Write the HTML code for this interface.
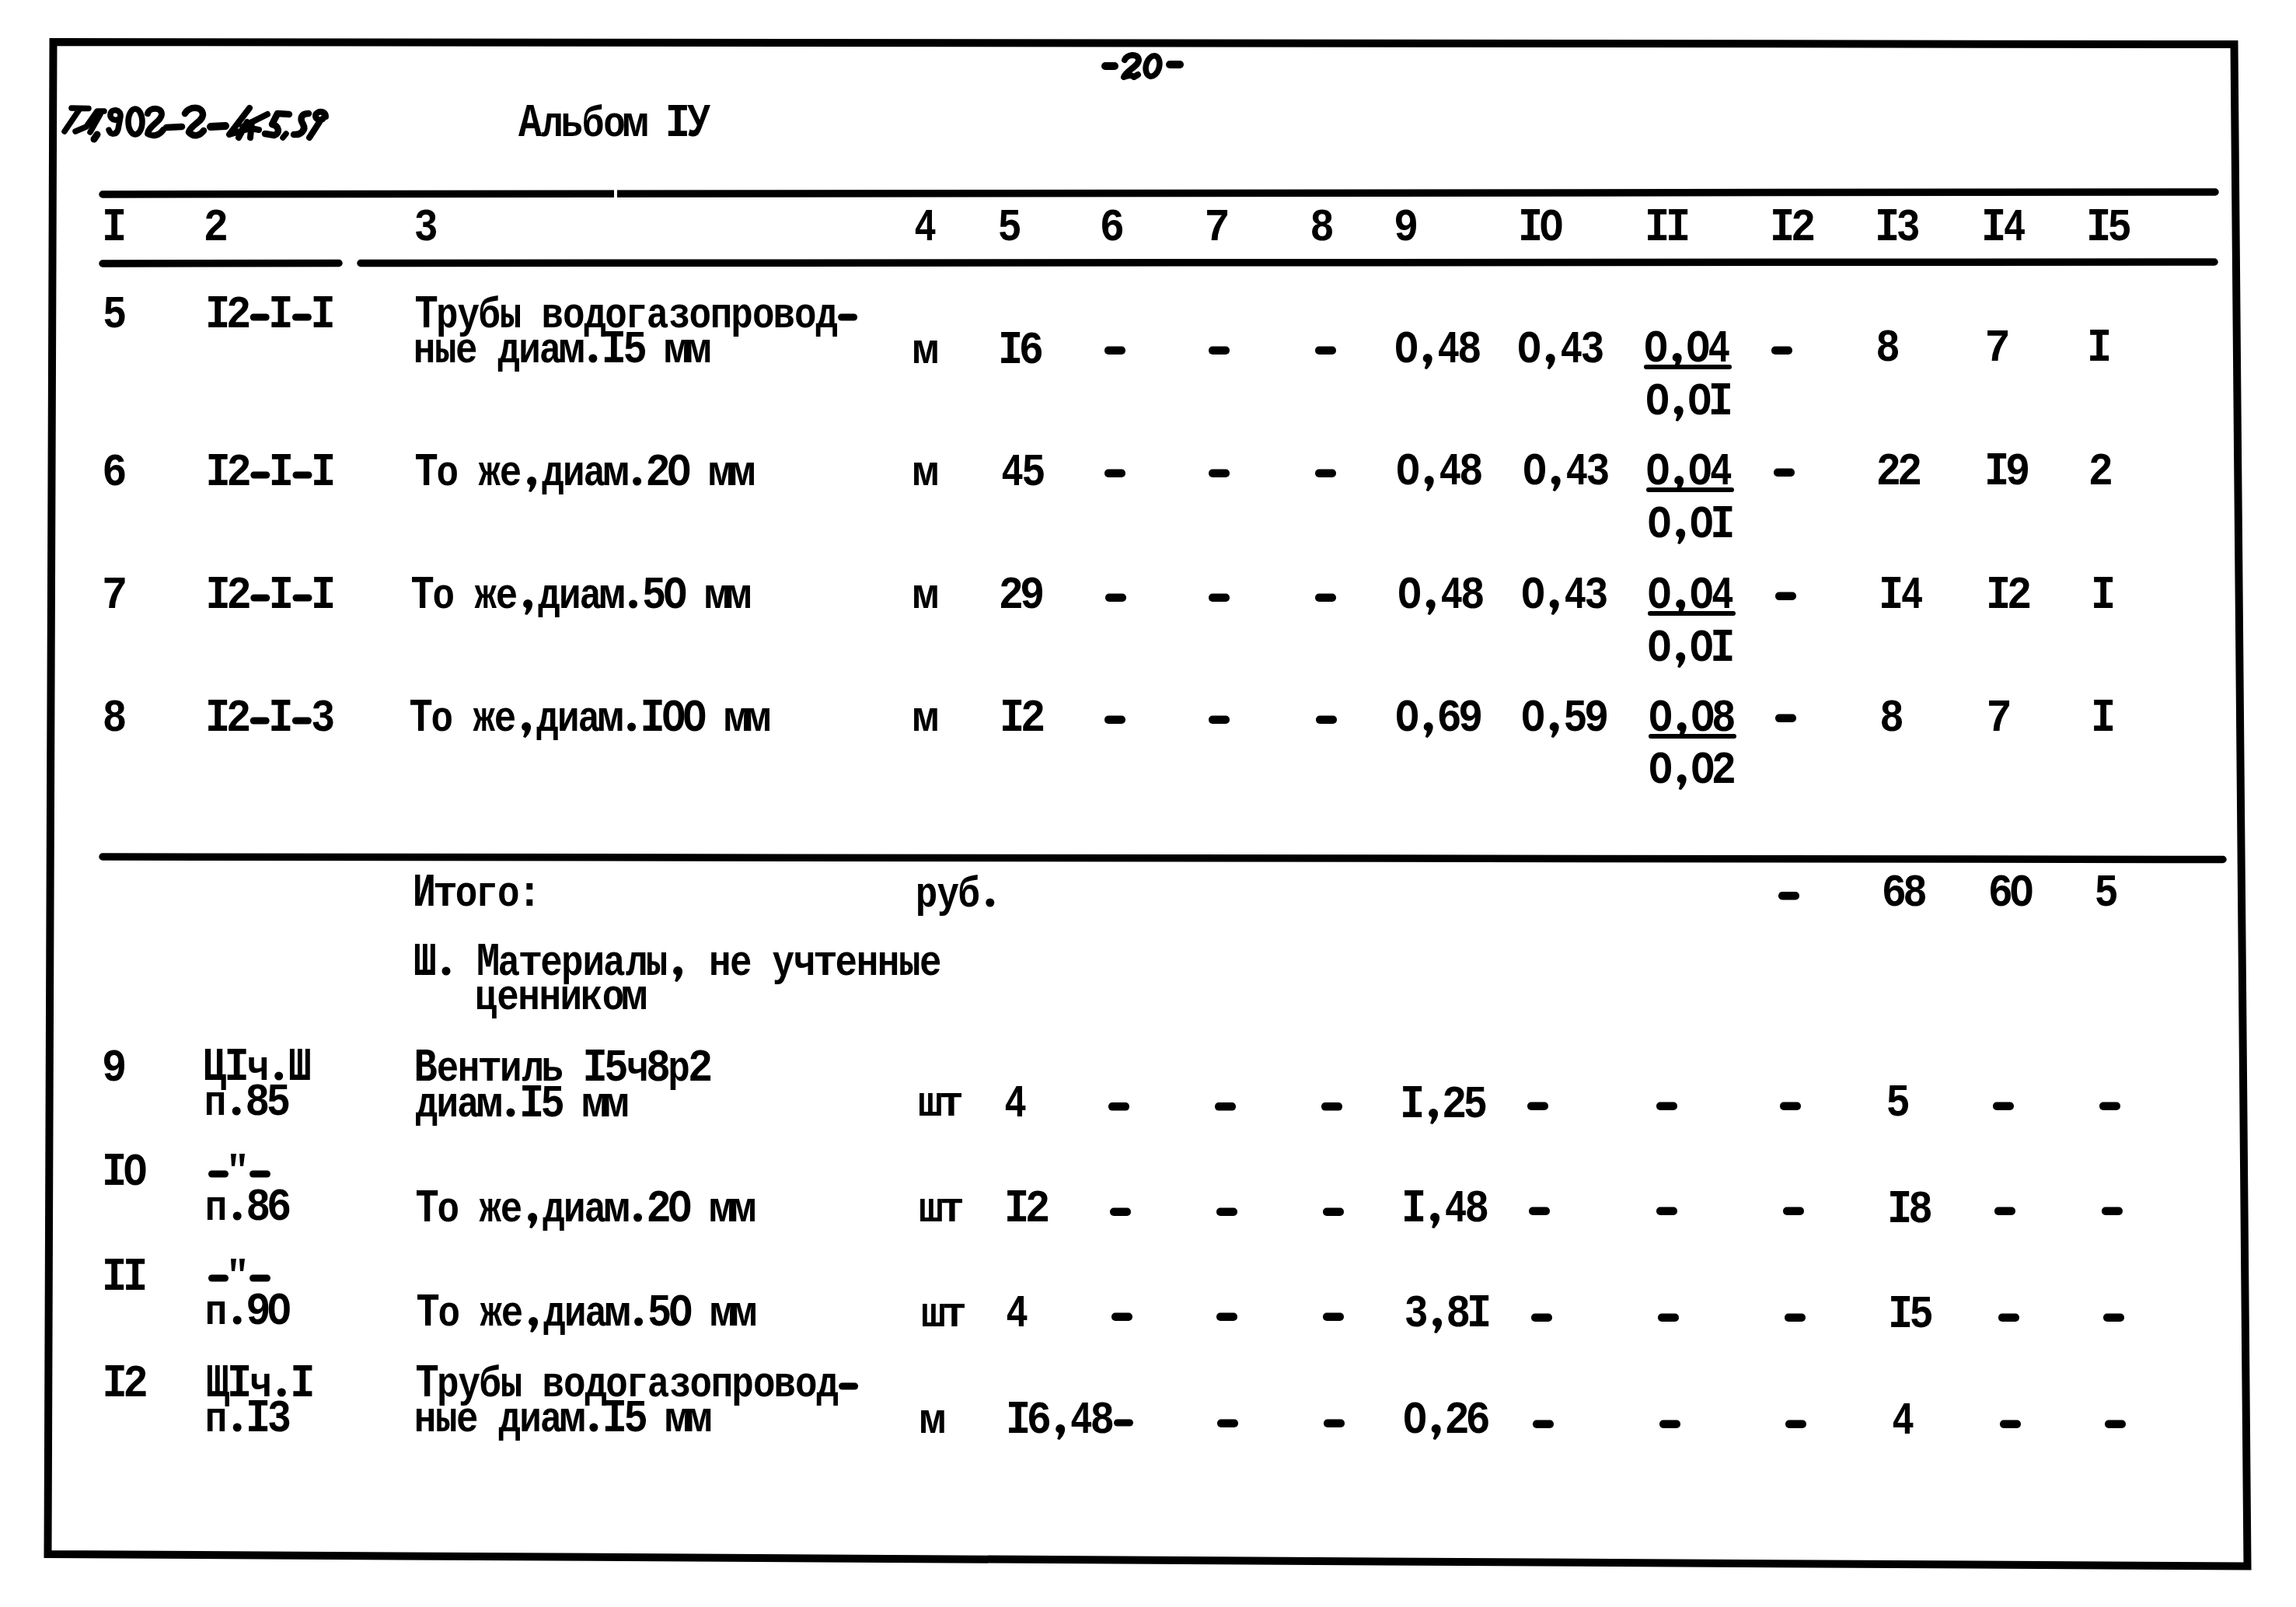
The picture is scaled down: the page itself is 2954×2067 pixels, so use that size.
<!DOCTYPE html><html><head><meta charset="utf-8"><style>html,body{margin:0;padding:0;background:#fff;width:2954px;height:2067px;overflow:hidden}svg{display:block}</style></head><body>
<svg width="2954" height="2067" viewBox="0 0 2954 2067">
<rect width="2954" height="2067" fill="#fff"/>
<path d="M68.5 54 L2874.5 57 L2891.5 2014.5 L61.5 1999 Z" fill="none" stroke="#000" stroke-width="10" stroke-linejoin="miter"/>
<g stroke="#000" stroke-width="9.5" stroke-linecap="round">
<line x1="132" y1="250" x2="2850" y2="247"/>
<line x1="132" y1="339" x2="436" y2="338.5"/>
<line x1="464" y1="338.5" x2="2849" y2="337"/>
<line x1="132" y1="1102" x2="2860" y2="1105.5"/>
</g>
<rect x="790" y="240" width="4" height="16" fill="#fff"/>
<g fill="#000">
<rect x="2115" y="469" width="113" height="6" rx="3"/>
<rect x="2118" y="627" width="113" height="6" rx="3"/>
<rect x="2120" y="786" width="113" height="6" rx="3"/>
<rect x="2121" y="944" width="113" height="6" rx="3"/>
<rect x="1421" y="445.5" width="27" height="10.5" rx="5"/>
<rect x="1555" y="445.5" width="27" height="10.5" rx="5"/>
<rect x="1692" y="445.5" width="27" height="10.5" rx="5"/>
<rect x="2279" y="445.5" width="27" height="10.5" rx="5"/>
<rect x="1421" y="603.5" width="27" height="10.5" rx="5"/>
<rect x="1555" y="603.5" width="27" height="10.5" rx="5"/>
<rect x="1692" y="603.5" width="27" height="10.5" rx="5"/>
<rect x="2282" y="602.5" width="27" height="10.5" rx="5"/>
<rect x="1422" y="763.5" width="27" height="10.5" rx="5"/>
<rect x="1555" y="763.5" width="27" height="10.5" rx="5"/>
<rect x="1692" y="763.5" width="27" height="10.5" rx="5"/>
<rect x="2284" y="761.5" width="27" height="10.5" rx="5"/>
<rect x="1421" y="920.5" width="27" height="10.5" rx="5"/>
<rect x="1555" y="920.5" width="27" height="10.5" rx="5"/>
<rect x="1693" y="920.5" width="27" height="10.5" rx="5"/>
<rect x="2284" y="918.5" width="27" height="10.5" rx="5"/>
<rect x="2288" y="1147.0" width="27" height="10.5" rx="5"/>
<rect x="1426" y="1418.1" width="27" height="10.5" rx="5"/>
<rect x="1563" y="1418.1" width="27" height="10.5" rx="5"/>
<rect x="1700" y="1418.1" width="27" height="10.5" rx="5"/>
<rect x="1965" y="1417.5" width="27" height="10.5" rx="5"/>
<rect x="2131" y="1417.5" width="27" height="10.5" rx="5"/>
<rect x="2290" y="1417.5" width="27" height="10.5" rx="5"/>
<rect x="2564" y="1417.5" width="27" height="10.5" rx="5"/>
<rect x="2701" y="1417.5" width="27" height="10.5" rx="5"/>
<rect x="1428" y="1553.5" width="27" height="10.5" rx="5"/>
<rect x="1565" y="1553.5" width="27" height="10.5" rx="5"/>
<rect x="1702" y="1553.5" width="27" height="10.5" rx="5"/>
<rect x="1967" y="1552.5" width="27" height="10.5" rx="5"/>
<rect x="2131" y="1552.5" width="27" height="10.5" rx="5"/>
<rect x="2294" y="1552.5" width="27" height="10.5" rx="5"/>
<rect x="2566" y="1552.5" width="27" height="10.5" rx="5"/>
<rect x="2704" y="1552.5" width="27" height="10.5" rx="5"/>
<rect x="1430" y="1688.5" width="27" height="10.5" rx="5"/>
<rect x="1565" y="1688.5" width="27" height="10.5" rx="5"/>
<rect x="1702" y="1688.5" width="27" height="10.5" rx="5"/>
<rect x="1970" y="1689.5" width="27" height="10.5" rx="5"/>
<rect x="2133" y="1689.5" width="27" height="10.5" rx="5"/>
<rect x="2296" y="1689.5" width="27" height="10.5" rx="5"/>
<rect x="2571" y="1689.5" width="27" height="10.5" rx="5"/>
<rect x="2706" y="1689.5" width="27" height="10.5" rx="5"/>
<rect x="1566" y="1825.5" width="27" height="10.5" rx="5"/>
<rect x="1703" y="1825.5" width="27" height="10.5" rx="5"/>
<rect x="1972" y="1826.5" width="27" height="10.5" rx="5"/>
<rect x="2135" y="1826.5" width="27" height="10.5" rx="5"/>
<rect x="2297" y="1826.5" width="27" height="10.5" rx="5"/>
<rect x="2573" y="1826.5" width="27" height="10.5" rx="5"/>
<rect x="2708" y="1826.5" width="27" height="10.5" rx="5"/>
<rect x="268" y="1505.5" width="26" height="9" rx="4.5"/><rect x="321" y="1505.5" width="27" height="9" rx="4.5"/>
<path d="M297 1484 h7 l-2 16 h-4 Z M308 1484 h7 l-2 16 h-4 Z"/>
<rect x="268" y="1639.5" width="26" height="9" rx="4.5"/><rect x="321" y="1639.5" width="27" height="9" rx="4.5"/>
<path d="M297 1619 h7 l-2 16 h-4 Z M308 1619 h7 l-2 16 h-4 Z"/>
</g>
<g font-family="Liberation Mono" font-weight="bold" font-size="56.0" fill="#000" stroke="#000" stroke-width="0">
<text transform="translate(130.9 309) scale(0.96 1.084)">I</text>
<text transform="translate(261.8 309) scale(0.96 1.068)">2</text>
<text transform="translate(532.7 309) scale(0.92 1.068)">3</text>
<text transform="translate(1176.3 309) scale(0.85 1.068)">4</text>
<text transform="translate(1283.4 309) scale(0.93 1.068)">5</text>
<text transform="translate(1414.7 309) scale(0.96 1.068)">6</text>
<text transform="translate(1549.5 309) scale(0.99 1.068)">7</text>
<text transform="translate(1685.2 309) scale(0.94 1.068)">8</text>
<text transform="translate(1793.0 309) scale(0.96 1.068)">9</text>
<text transform="translate(1952.9 309) scale(0.96 1.084)">I</text>
<text transform="translate(1980.8 309) scale(0.91 1.068)">O</text>
<text transform="translate(2115.9 309) scale(0.96 1.084)">I</text>
<text transform="translate(2143.0 309) scale(0.96 1.084)">I</text>
<text transform="translate(2276.9 309) scale(0.96 1.084)">I</text>
<text transform="translate(2304.0 309) scale(0.96 1.068)">2</text>
<text transform="translate(2411.9 309) scale(0.96 1.084)">I</text>
<text transform="translate(2439.8 309) scale(0.92 1.068)">3</text>
<text transform="translate(2548.9 309) scale(0.96 1.084)">I</text>
<text transform="translate(2577.7 309) scale(0.85 1.068)">4</text>
<text transform="translate(2683.9 309) scale(0.96 1.084)">I</text>
<text transform="translate(2711.5 309) scale(0.93 1.068)">5</text>
<text transform="translate(667.0 175) scale(0.9 1.084)">А</text>
<text transform="translate(696.3 175) scale(0.85 1.0)">л</text>
<text transform="translate(721.4 175) scale(0.85 1.0)">ь</text>
<text transform="translate(748.8 175) scale(0.85 1.0)">б</text>
<text transform="translate(776.2 175) scale(0.85 1.0)">о</text>
<text transform="translate(800.0 175) scale(1.05 1.0)">м</text>
<text transform="translate(855.7 175) scale(0.96 1.084)">I</text>
<text transform="translate(883.9 175) scale(0.9 1.084)">У</text>
<text transform="translate(131.9 421) scale(0.93 1.068)">5</text>
<text transform="translate(263.9 421) scale(0.96 1.084)">I</text>
<text transform="translate(291.0 421) scale(0.96 1.068)">2</text>
<rect x="321.7" y="403.5" width="25" height="9" rx="4.5"/>
<text transform="translate(345.2 421) scale(0.96 1.084)">I</text>
<rect x="375.9" y="403.5" width="25" height="9" rx="4.5"/>
<text transform="translate(399.4 421) scale(0.96 1.084)">I</text>
<text transform="translate(533.5 421) scale(0.9 1.084)">Т</text>
<text transform="translate(560.9 421) scale(0.85 1.0)">р</text>
<text transform="translate(588.6 421) scale(0.85 1.0)">у</text>
<text transform="translate(615.3 421) scale(0.85 1.0)">б</text>
<text transform="translate(642.7 421) scale(0.85 1.0)">ы</text>
<text transform="translate(696.4 421) scale(0.85 1.0)">в</text>
<text transform="translate(724.0 421) scale(0.85 1.0)">о</text>
<text transform="translate(751.5 421) scale(0.85 1.0)">д</text>
<text transform="translate(778.2 421) scale(0.85 1.0)">о</text>
<text transform="translate(804.4 421) scale(0.85 1.0)">г</text>
<text transform="translate(831.8 421) scale(0.85 1.0)">а</text>
<text transform="translate(860.0 421) scale(0.85 1.0)">з</text>
<text transform="translate(886.6 421) scale(0.85 1.0)">о</text>
<text transform="translate(913.7 421) scale(0.85 1.0)">п</text>
<text transform="translate(940.3 421) scale(0.85 1.0)">р</text>
<text transform="translate(967.9 421) scale(0.85 1.0)">о</text>
<text transform="translate(994.5 421) scale(0.85 1.0)">в</text>
<text transform="translate(1022.1 421) scale(0.85 1.0)">о</text>
<text transform="translate(1049.6 421) scale(0.85 1.0)">д</text>
<rect x="1078.1" y="403.5" width="25" height="9" rx="4.5"/>
<text transform="translate(531.8 466) scale(0.85 1.0)">н</text>
<text transform="translate(558.9 466) scale(0.85 1.0)">ы</text>
<text transform="translate(586.0 466) scale(0.85 1.0)">е</text>
<text transform="translate(640.6 466) scale(0.85 1.0)">д</text>
<text transform="translate(667.3 466) scale(0.85 1.0)">и</text>
<text transform="translate(693.8 466) scale(0.85 1.0)">а</text>
<text transform="translate(718.1 466) scale(1.05 1.0)">м</text>
<circle cx="762.9" cy="461" r="5.5"/>
<text transform="translate(773.8 466) scale(0.96 1.084)">I</text>
<text transform="translate(801.5 466) scale(0.93 1.068)">5</text>
<text transform="translate(853.6 466) scale(1.05 1.0)">м</text>
<text transform="translate(880.7 466) scale(1.05 1.0)">м</text>
<text transform="translate(1173.2 467) scale(1.05 1.0)">м</text>
<text transform="translate(1283.9 467) scale(0.96 1.084)">I</text>
<text transform="translate(1310.8 467) scale(0.96 1.068)">6</text>
<text transform="translate(1794.3 466) scale(0.91 1.068)">O</text>
<path d="M1830.7 461 a6 6 0 1 1 12 0 c0 5 -3 10 -7 14 l-3 -1 c1 -3 2 -6 2 -8 c-3 -1 -4 -3 -4 -5 Z"/>
<text transform="translate(1849.4 466) scale(0.85 1.068)">4</text>
<text transform="translate(1875.1 466) scale(0.94 1.068)">8</text>
<text transform="translate(1952.3 466) scale(0.91 1.068)">O</text>
<path d="M1988.7 461 a6 6 0 1 1 12 0 c0 5 -3 10 -7 14 l-3 -1 c1 -3 2 -6 2 -8 c-3 -1 -4 -3 -4 -5 Z"/>
<text transform="translate(2007.4 466) scale(0.85 1.068)">4</text>
<text transform="translate(2033.6 466) scale(0.92 1.068)">3</text>
<text transform="translate(2115.3 465) scale(0.91 1.068)">O</text>
<path d="M2151.7 460 a6 6 0 1 1 12 0 c0 5 -3 10 -7 14 l-3 -1 c1 -3 2 -6 2 -8 c-3 -1 -4 -3 -4 -5 Z"/>
<text transform="translate(2169.5 465) scale(0.91 1.068)">O</text>
<text transform="translate(2197.5 465) scale(0.85 1.068)">4</text>
<text transform="translate(2413.2 464) scale(0.94 1.068)">8</text>
<text transform="translate(2553.5 464) scale(0.99 1.068)">7</text>
<text transform="translate(2684.9 464) scale(0.96 1.084)">I</text>
<text transform="translate(2117.3 533) scale(0.91 1.068)">O</text>
<path d="M2153.7 528 a6 6 0 1 1 12 0 c0 5 -3 10 -7 14 l-3 -1 c1 -3 2 -6 2 -8 c-3 -1 -4 -3 -4 -5 Z"/>
<text transform="translate(2171.5 533) scale(0.91 1.068)">O</text>
<text transform="translate(2197.7 533) scale(0.96 1.084)">I</text>
<text transform="translate(131.2 624) scale(0.96 1.068)">6</text>
<text transform="translate(264.5 624) scale(0.96 1.084)">I</text>
<text transform="translate(291.6 624) scale(0.96 1.068)">2</text>
<rect x="322.3" y="606.5" width="25" height="9" rx="4.5"/>
<text transform="translate(345.8 624) scale(0.96 1.084)">I</text>
<rect x="376.5" y="606.5" width="25" height="9" rx="4.5"/>
<text transform="translate(400.0 624) scale(0.96 1.084)">I</text>
<text transform="translate(533.5 624) scale(0.9 1.084)">Т</text>
<text transform="translate(561.4 624) scale(0.85 1.0)">о</text>
<text transform="translate(615.6 624) scale(0.85 1.0)">ж</text>
<text transform="translate(642.7 624) scale(0.85 1.0)">е</text>
<path d="M678.1 619 a6 6 0 1 1 12 0 c0 5 -3 10 -7 14 l-3 -1 c1 -3 2 -6 2 -8 c-3 -1 -4 -3 -4 -5 Z"/>
<text transform="translate(697.3 624) scale(0.85 1.0)">д</text>
<text transform="translate(724.0 624) scale(0.85 1.0)">и</text>
<text transform="translate(750.5 624) scale(0.85 1.0)">а</text>
<text transform="translate(774.9 624) scale(1.05 1.0)">м</text>
<circle cx="819.6" cy="619" r="5.5"/>
<text transform="translate(830.6 624) scale(0.96 1.068)">2</text>
<text transform="translate(858.5 624) scale(0.91 1.068)">O</text>
<text transform="translate(910.4 624) scale(1.05 1.0)">м</text>
<text transform="translate(937.5 624) scale(1.05 1.0)">м</text>
<text transform="translate(1173.2 624) scale(1.05 1.0)">м</text>
<text transform="translate(1288.3 624) scale(0.85 1.068)">4</text>
<text transform="translate(1314.2 624) scale(0.93 1.068)">5</text>
<text transform="translate(1796.3 623) scale(0.91 1.068)">O</text>
<path d="M1832.7 618 a6 6 0 1 1 12 0 c0 5 -3 10 -7 14 l-3 -1 c1 -3 2 -6 2 -8 c-3 -1 -4 -3 -4 -5 Z"/>
<text transform="translate(1851.4 623) scale(0.85 1.068)">4</text>
<text transform="translate(1877.1 623) scale(0.94 1.068)">8</text>
<text transform="translate(1959.3 623) scale(0.91 1.068)">O</text>
<path d="M1995.7 618 a6 6 0 1 1 12 0 c0 5 -3 10 -7 14 l-3 -1 c1 -3 2 -6 2 -8 c-3 -1 -4 -3 -4 -5 Z"/>
<text transform="translate(2014.4 623) scale(0.85 1.068)">4</text>
<text transform="translate(2040.6 623) scale(0.92 1.068)">3</text>
<text transform="translate(2117.8 623) scale(0.91 1.068)">O</text>
<path d="M2154.2 618 a6 6 0 1 1 12 0 c0 5 -3 10 -7 14 l-3 -1 c1 -3 2 -6 2 -8 c-3 -1 -4 -3 -4 -5 Z"/>
<text transform="translate(2172.0 623) scale(0.91 1.068)">O</text>
<text transform="translate(2200.0 623) scale(0.85 1.068)">4</text>
<text transform="translate(2413.8 623) scale(0.96 1.068)">2</text>
<text transform="translate(2440.9 623) scale(0.96 1.068)">2</text>
<text transform="translate(2552.9 623) scale(0.96 1.084)">I</text>
<text transform="translate(2580.1 623) scale(0.96 1.068)">9</text>
<text transform="translate(2686.8 623) scale(0.96 1.068)">2</text>
<text transform="translate(2119.8 691) scale(0.91 1.068)">O</text>
<path d="M2156.2 686 a6 6 0 1 1 12 0 c0 5 -3 10 -7 14 l-3 -1 c1 -3 2 -6 2 -8 c-3 -1 -4 -3 -4 -5 Z"/>
<text transform="translate(2174.0 691) scale(0.91 1.068)">O</text>
<text transform="translate(2200.2 691) scale(0.96 1.084)">I</text>
<text transform="translate(131.0 782) scale(0.99 1.068)">7</text>
<text transform="translate(264.5 782) scale(0.96 1.084)">I</text>
<text transform="translate(291.6 782) scale(0.96 1.068)">2</text>
<rect x="322.3" y="764.5" width="25" height="9" rx="4.5"/>
<text transform="translate(345.8 782) scale(0.96 1.084)">I</text>
<rect x="376.5" y="764.5" width="25" height="9" rx="4.5"/>
<text transform="translate(400.0 782) scale(0.96 1.084)">I</text>
<text transform="translate(528.5 782) scale(0.9 1.084)">Т</text>
<text transform="translate(556.4 782) scale(0.85 1.0)">о</text>
<text transform="translate(610.6 782) scale(0.85 1.0)">ж</text>
<text transform="translate(637.7 782) scale(0.85 1.0)">е</text>
<path d="M673.1 777 a6 6 0 1 1 12 0 c0 5 -3 10 -7 14 l-3 -1 c1 -3 2 -6 2 -8 c-3 -1 -4 -3 -4 -5 Z"/>
<text transform="translate(692.3 782) scale(0.85 1.0)">д</text>
<text transform="translate(719.0 782) scale(0.85 1.0)">и</text>
<text transform="translate(745.5 782) scale(0.85 1.0)">а</text>
<text transform="translate(769.9 782) scale(1.05 1.0)">м</text>
<circle cx="814.6" cy="777" r="5.5"/>
<text transform="translate(826.1 782) scale(0.93 1.068)">5</text>
<text transform="translate(853.5 782) scale(0.91 1.068)">O</text>
<text transform="translate(905.4 782) scale(1.05 1.0)">м</text>
<text transform="translate(932.5 782) scale(1.05 1.0)">м</text>
<text transform="translate(1173.2 782) scale(1.05 1.0)">м</text>
<text transform="translate(1284.8 782) scale(0.96 1.068)">2</text>
<text transform="translate(1312.0 782) scale(0.96 1.068)">9</text>
<text transform="translate(1798.3 782) scale(0.91 1.068)">O</text>
<path d="M1834.7 777 a6 6 0 1 1 12 0 c0 5 -3 10 -7 14 l-3 -1 c1 -3 2 -6 2 -8 c-3 -1 -4 -3 -4 -5 Z"/>
<text transform="translate(1853.4 782) scale(0.85 1.068)">4</text>
<text transform="translate(1879.1 782) scale(0.94 1.068)">8</text>
<text transform="translate(1957.3 782) scale(0.91 1.068)">O</text>
<path d="M1993.7 777 a6 6 0 1 1 12 0 c0 5 -3 10 -7 14 l-3 -1 c1 -3 2 -6 2 -8 c-3 -1 -4 -3 -4 -5 Z"/>
<text transform="translate(2012.4 782) scale(0.85 1.068)">4</text>
<text transform="translate(2038.6 782) scale(0.92 1.068)">3</text>
<text transform="translate(2119.8 782) scale(0.91 1.068)">O</text>
<path d="M2156.2 777 a6 6 0 1 1 12 0 c0 5 -3 10 -7 14 l-3 -1 c1 -3 2 -6 2 -8 c-3 -1 -4 -3 -4 -5 Z"/>
<text transform="translate(2174.0 782) scale(0.91 1.068)">O</text>
<text transform="translate(2202.0 782) scale(0.85 1.068)">4</text>
<text transform="translate(2416.9 782) scale(0.96 1.084)">I</text>
<text transform="translate(2445.7 782) scale(0.85 1.068)">4</text>
<text transform="translate(2554.9 782) scale(0.96 1.084)">I</text>
<text transform="translate(2582.0 782) scale(0.96 1.068)">2</text>
<text transform="translate(2689.9 782) scale(0.96 1.084)">I</text>
<text transform="translate(2119.8 850) scale(0.91 1.068)">O</text>
<path d="M2156.2 845 a6 6 0 1 1 12 0 c0 5 -3 10 -7 14 l-3 -1 c1 -3 2 -6 2 -8 c-3 -1 -4 -3 -4 -5 Z"/>
<text transform="translate(2174.0 850) scale(0.91 1.068)">O</text>
<text transform="translate(2200.2 850) scale(0.96 1.084)">I</text>
<text transform="translate(131.7 940) scale(0.94 1.068)">8</text>
<text transform="translate(263.9 940) scale(0.96 1.084)">I</text>
<text transform="translate(291.0 940) scale(0.96 1.068)">2</text>
<rect x="321.7" y="922.5" width="25" height="9" rx="4.5"/>
<text transform="translate(345.2 940) scale(0.96 1.084)">I</text>
<rect x="375.9" y="922.5" width="25" height="9" rx="4.5"/>
<text transform="translate(400.2 940) scale(0.92 1.068)">3</text>
<text transform="translate(526.5 940) scale(0.9 1.084)">Т</text>
<text transform="translate(554.4 940) scale(0.85 1.0)">о</text>
<text transform="translate(608.6 940) scale(0.85 1.0)">ж</text>
<text transform="translate(635.7 940) scale(0.85 1.0)">е</text>
<path d="M671.1 935 a6 6 0 1 1 12 0 c0 5 -3 10 -7 14 l-3 -1 c1 -3 2 -6 2 -8 c-3 -1 -4 -3 -4 -5 Z"/>
<text transform="translate(690.3 940) scale(0.85 1.0)">д</text>
<text transform="translate(717.0 940) scale(0.85 1.0)">и</text>
<text transform="translate(743.5 940) scale(0.85 1.0)">а</text>
<text transform="translate(767.9 940) scale(1.05 1.0)">м</text>
<circle cx="812.6" cy="935" r="5.5"/>
<text transform="translate(823.6 940) scale(0.96 1.084)">I</text>
<text transform="translate(851.5 940) scale(0.91 1.068)">O</text>
<text transform="translate(878.6 940) scale(0.91 1.068)">O</text>
<text transform="translate(930.5 940) scale(1.05 1.0)">м</text>
<text transform="translate(957.6 940) scale(1.05 1.0)">м</text>
<text transform="translate(1173.2 940) scale(1.05 1.0)">м</text>
<text transform="translate(1285.9 940) scale(0.96 1.084)">I</text>
<text transform="translate(1313.0 940) scale(0.96 1.068)">2</text>
<text transform="translate(1795.3 940) scale(0.91 1.068)">O</text>
<path d="M1831.7 935 a6 6 0 1 1 12 0 c0 5 -3 10 -7 14 l-3 -1 c1 -3 2 -6 2 -8 c-3 -1 -4 -3 -4 -5 Z"/>
<text transform="translate(1848.5 940) scale(0.96 1.068)">6</text>
<text transform="translate(1875.9 940) scale(0.96 1.068)">9</text>
<text transform="translate(1957.3 940) scale(0.91 1.068)">O</text>
<path d="M1993.7 935 a6 6 0 1 1 12 0 c0 5 -3 10 -7 14 l-3 -1 c1 -3 2 -6 2 -8 c-3 -1 -4 -3 -4 -5 Z"/>
<text transform="translate(2011.2 940) scale(0.93 1.068)">5</text>
<text transform="translate(2037.9 940) scale(0.96 1.068)">9</text>
<text transform="translate(2121.3 940) scale(0.91 1.068)">O</text>
<path d="M2157.7 935 a6 6 0 1 1 12 0 c0 5 -3 10 -7 14 l-3 -1 c1 -3 2 -6 2 -8 c-3 -1 -4 -3 -4 -5 Z"/>
<text transform="translate(2175.5 940) scale(0.91 1.068)">O</text>
<text transform="translate(2202.1 940) scale(0.94 1.068)">8</text>
<text transform="translate(2418.2 940) scale(0.94 1.068)">8</text>
<text transform="translate(2555.5 940) scale(0.99 1.068)">7</text>
<text transform="translate(2689.9 940) scale(0.96 1.084)">I</text>
<text transform="translate(2121.3 1007) scale(0.91 1.068)">O</text>
<path d="M2157.7 1002 a6 6 0 1 1 12 0 c0 5 -3 10 -7 14 l-3 -1 c1 -3 2 -6 2 -8 c-3 -1 -4 -3 -4 -5 Z"/>
<text transform="translate(2175.5 1007) scale(0.91 1.068)">O</text>
<text transform="translate(2201.7 1007) scale(0.96 1.068)">2</text>
<text transform="translate(530.7 1165) scale(0.9 1.084)">И</text>
<text transform="translate(557.0 1165) scale(0.95 1.0)">т</text>
<text transform="translate(585.7 1165) scale(0.85 1.0)">о</text>
<text transform="translate(611.9 1165) scale(0.85 1.0)">г</text>
<text transform="translate(639.9 1165) scale(0.85 1.0)">о</text>
<text transform="translate(664.5 1165) scale(1.0 1.0)">:</text>
<text transform="translate(1177.7 1166) scale(0.85 1.0)">р</text>
<text transform="translate(1205.4 1166) scale(0.85 1.0)">у</text>
<text transform="translate(1232.2 1166) scale(0.85 1.0)">б</text>
<circle cx="1273.8" cy="1161" r="5.5"/>
<text transform="translate(2420.7 1165) scale(0.96 1.068)">6</text>
<text transform="translate(2448.3 1165) scale(0.94 1.068)">8</text>
<text transform="translate(2557.7 1165) scale(0.96 1.068)">6</text>
<text transform="translate(2585.8 1165) scale(0.91 1.068)">O</text>
<text transform="translate(2694.4 1165) scale(0.93 1.068)">5</text>
<text transform="translate(531.8 1254) scale(0.9 1.084)">Ш</text>
<circle cx="574.0" cy="1249" r="5.5"/>
<text transform="translate(613.1 1254) scale(0.9 1.084)">М</text>
<text transform="translate(640.4 1254) scale(0.85 1.0)">а</text>
<text transform="translate(666.5 1254) scale(0.95 1.0)">т</text>
<text transform="translate(695.2 1254) scale(0.85 1.0)">е</text>
<text transform="translate(721.9 1254) scale(0.85 1.0)">р</text>
<text transform="translate(749.4 1254) scale(0.85 1.0)">и</text>
<text transform="translate(775.9 1254) scale(0.85 1.0)">а</text>
<text transform="translate(805.0 1254) scale(0.85 1.0)">л</text>
<text transform="translate(830.7 1254) scale(0.85 1.0)">ы</text>
<path d="M866.1 1249 a6 6 0 1 1 12 0 c0 5 -3 10 -7 14 l-3 -1 c1 -3 2 -6 2 -8 c-3 -1 -4 -3 -4 -5 Z"/>
<text transform="translate(912.0 1254) scale(0.85 1.0)">н</text>
<text transform="translate(939.1 1254) scale(0.85 1.0)">е</text>
<text transform="translate(993.4 1254) scale(0.85 1.0)">у</text>
<text transform="translate(1020.8 1254) scale(0.85 1.0)">ч</text>
<text transform="translate(1045.9 1254) scale(0.95 1.0)">т</text>
<text transform="translate(1074.6 1254) scale(0.85 1.0)">е</text>
<text transform="translate(1101.7 1254) scale(0.85 1.0)">н</text>
<text transform="translate(1128.8 1254) scale(0.85 1.0)">н</text>
<text transform="translate(1155.9 1254) scale(0.85 1.0)">ы</text>
<text transform="translate(1183.0 1254) scale(0.85 1.0)">е</text>
<text transform="translate(610.8 1298) scale(0.85 1.0)">ц</text>
<text transform="translate(639.2 1298) scale(0.85 1.0)">е</text>
<text transform="translate(666.3 1298) scale(0.85 1.0)">н</text>
<text transform="translate(693.4 1298) scale(0.85 1.0)">н</text>
<text transform="translate(720.5 1298) scale(0.85 1.0)">и</text>
<text transform="translate(746.8 1298) scale(0.85 1.0)">к</text>
<text transform="translate(774.7 1298) scale(0.85 1.0)">о</text>
<text transform="translate(798.5 1298) scale(1.05 1.0)">м</text>
<text transform="translate(131.0 1390) scale(0.96 1.068)">9</text>
<text transform="translate(260.6 1389) scale(0.9 1.084)">Ц</text>
<text transform="translate(288.4 1389) scale(0.96 1.084)">I</text>
<text transform="translate(317.7 1389) scale(0.85 1.0)">ч</text>
<circle cx="358.7" cy="1384" r="5.5"/>
<text transform="translate(370.7 1389) scale(0.9 1.084)">Ш</text>
<text transform="translate(262.8 1434) scale(0.85 1.0)">п</text>
<circle cx="304.2" cy="1429" r="5.5"/>
<text transform="translate(315.5 1434) scale(0.94 1.068)">8</text>
<text transform="translate(342.8 1434) scale(0.93 1.068)">5</text>
<text transform="translate(532.6 1390) scale(0.9 1.084)">В</text>
<text transform="translate(561.7 1390) scale(0.85 1.0)">е</text>
<text transform="translate(588.8 1390) scale(0.85 1.0)">н</text>
<text transform="translate(614.3 1390) scale(0.95 1.0)">т</text>
<text transform="translate(643.0 1390) scale(0.85 1.0)">и</text>
<text transform="translate(671.5 1390) scale(0.85 1.0)">л</text>
<text transform="translate(696.6 1390) scale(0.85 1.0)">ь</text>
<text transform="translate(749.6 1390) scale(0.96 1.084)">I</text>
<text transform="translate(777.2 1390) scale(0.93 1.068)">5</text>
<text transform="translate(805.9 1390) scale(0.85 1.0)">ч</text>
<text transform="translate(831.2 1390) scale(0.94 1.068)">8</text>
<text transform="translate(859.3 1390) scale(0.85 1.0)">р</text>
<text transform="translate(885.0 1390) scale(0.96 1.068)">2</text>
<text transform="translate(534.7 1436) scale(0.85 1.0)">д</text>
<text transform="translate(561.4 1436) scale(0.85 1.0)">и</text>
<text transform="translate(587.9 1436) scale(0.85 1.0)">а</text>
<text transform="translate(612.2 1436) scale(1.05 1.0)">м</text>
<circle cx="657.0" cy="1431" r="5.5"/>
<text transform="translate(667.9 1436) scale(0.96 1.084)">I</text>
<text transform="translate(695.6 1436) scale(0.93 1.068)">5</text>
<text transform="translate(747.7 1436) scale(1.05 1.0)">м</text>
<text transform="translate(774.8 1436) scale(1.05 1.0)">м</text>
<text transform="translate(1180.9 1435) scale(0.95 1.0)">ш</text>
<text transform="translate(1208.1 1435) scale(0.95 1.0)">т</text>
<text transform="translate(1292.3 1436) scale(0.85 1.068)">4</text>
<text transform="translate(1800.9 1437) scale(0.96 1.084)">I</text>
<path d="M1838.1 1432 a6 6 0 1 1 12 0 c0 5 -3 10 -7 14 l-3 -1 c1 -3 2 -6 2 -8 c-3 -1 -4 -3 -4 -5 Z"/>
<text transform="translate(1855.1 1437) scale(0.96 1.068)">2</text>
<text transform="translate(1882.7 1437) scale(0.93 1.068)">5</text>
<text transform="translate(2426.4 1434.5) scale(0.93 1.068)">5</text>
<text transform="translate(130.9 1524) scale(0.96 1.084)">I</text>
<text transform="translate(158.8 1524) scale(0.91 1.068)">O</text>
<text transform="translate(263.8 1569) scale(0.85 1.0)">п</text>
<circle cx="305.2" cy="1564" r="5.5"/>
<text transform="translate(316.5 1569) scale(0.94 1.068)">8</text>
<text transform="translate(343.1 1569) scale(0.96 1.068)">6</text>
<text transform="translate(534.5 1571) scale(0.9 1.084)">Т</text>
<text transform="translate(562.4 1571) scale(0.85 1.0)">о</text>
<text transform="translate(616.6 1571) scale(0.85 1.0)">ж</text>
<text transform="translate(643.7 1571) scale(0.85 1.0)">е</text>
<path d="M679.1 1566 a6 6 0 1 1 12 0 c0 5 -3 10 -7 14 l-3 -1 c1 -3 2 -6 2 -8 c-3 -1 -4 -3 -4 -5 Z"/>
<text transform="translate(698.3 1571) scale(0.85 1.0)">д</text>
<text transform="translate(725.0 1571) scale(0.85 1.0)">и</text>
<text transform="translate(751.5 1571) scale(0.85 1.0)">а</text>
<text transform="translate(775.9 1571) scale(1.05 1.0)">м</text>
<circle cx="820.6" cy="1566" r="5.5"/>
<text transform="translate(831.6 1571) scale(0.96 1.068)">2</text>
<text transform="translate(859.5 1571) scale(0.91 1.068)">O</text>
<text transform="translate(911.4 1571) scale(1.05 1.0)">м</text>
<text transform="translate(938.5 1571) scale(1.05 1.0)">м</text>
<text transform="translate(1181.9 1571) scale(0.95 1.0)">ш</text>
<text transform="translate(1209.1 1571) scale(0.95 1.0)">т</text>
<text transform="translate(1291.9 1571) scale(0.96 1.084)">I</text>
<text transform="translate(1319.0 1571) scale(0.96 1.068)">2</text>
<text transform="translate(1802.9 1571) scale(0.96 1.084)">I</text>
<path d="M1840.1 1566 a6 6 0 1 1 12 0 c0 5 -3 10 -7 14 l-3 -1 c1 -3 2 -6 2 -8 c-3 -1 -4 -3 -4 -5 Z"/>
<text transform="translate(1858.8 1571) scale(0.85 1.068)">4</text>
<text transform="translate(1884.5 1571) scale(0.94 1.068)">8</text>
<text transform="translate(2427.9 1572) scale(0.96 1.084)">I</text>
<text transform="translate(2455.3 1572) scale(0.94 1.068)">8</text>
<text transform="translate(130.9 1659) scale(0.96 1.084)">I</text>
<text transform="translate(158.0 1659) scale(0.96 1.084)">I</text>
<text transform="translate(263.8 1703) scale(0.85 1.0)">п</text>
<circle cx="305.2" cy="1698" r="5.5"/>
<text transform="translate(316.3 1703) scale(0.96 1.068)">9</text>
<text transform="translate(344.1 1703) scale(0.91 1.068)">O</text>
<text transform="translate(535.5 1705) scale(0.9 1.084)">Т</text>
<text transform="translate(563.4 1705) scale(0.85 1.0)">о</text>
<text transform="translate(617.6 1705) scale(0.85 1.0)">ж</text>
<text transform="translate(644.7 1705) scale(0.85 1.0)">е</text>
<path d="M680.1 1700 a6 6 0 1 1 12 0 c0 5 -3 10 -7 14 l-3 -1 c1 -3 2 -6 2 -8 c-3 -1 -4 -3 -4 -5 Z"/>
<text transform="translate(699.3 1705) scale(0.85 1.0)">д</text>
<text transform="translate(726.0 1705) scale(0.85 1.0)">и</text>
<text transform="translate(752.5 1705) scale(0.85 1.0)">а</text>
<text transform="translate(776.9 1705) scale(1.05 1.0)">м</text>
<circle cx="821.6" cy="1700" r="5.5"/>
<text transform="translate(833.1 1705) scale(0.93 1.068)">5</text>
<text transform="translate(860.5 1705) scale(0.91 1.068)">O</text>
<text transform="translate(912.4 1705) scale(1.05 1.0)">м</text>
<text transform="translate(939.5 1705) scale(1.05 1.0)">м</text>
<text transform="translate(1184.9 1706) scale(0.95 1.0)">ш</text>
<text transform="translate(1212.1 1706) scale(0.95 1.0)">т</text>
<text transform="translate(1294.3 1706) scale(0.85 1.068)">4</text>
<text transform="translate(1806.7 1706) scale(0.92 1.068)">3</text>
<path d="M1843.1 1701 a6 6 0 1 1 12 0 c0 5 -3 10 -7 14 l-3 -1 c1 -3 2 -6 2 -8 c-3 -1 -4 -3 -4 -5 Z"/>
<text transform="translate(1860.4 1706) scale(0.94 1.068)">8</text>
<text transform="translate(1887.1 1706) scale(0.96 1.084)">I</text>
<text transform="translate(2428.9 1707) scale(0.96 1.084)">I</text>
<text transform="translate(2456.5 1707) scale(0.93 1.068)">5</text>
<text transform="translate(131.4 1796) scale(0.96 1.084)">I</text>
<text transform="translate(158.5 1796) scale(0.96 1.068)">2</text>
<text transform="translate(264.8 1796) scale(0.9 1.084)">Щ</text>
<text transform="translate(292.0 1796) scale(0.96 1.084)">I</text>
<text transform="translate(321.2 1796) scale(0.85 1.0)">ч</text>
<circle cx="362.3" cy="1791" r="5.5"/>
<text transform="translate(373.3 1796) scale(0.96 1.084)">I</text>
<text transform="translate(263.8 1841) scale(0.85 1.0)">п</text>
<circle cx="305.2" cy="1836" r="5.5"/>
<text transform="translate(316.1 1841) scale(0.96 1.084)">I</text>
<text transform="translate(344.1 1841) scale(0.92 1.068)">3</text>
<text transform="translate(534.5 1796) scale(0.9 1.084)">Т</text>
<text transform="translate(561.9 1796) scale(0.85 1.0)">р</text>
<text transform="translate(589.6 1796) scale(0.85 1.0)">у</text>
<text transform="translate(616.3 1796) scale(0.85 1.0)">б</text>
<text transform="translate(643.7 1796) scale(0.85 1.0)">ы</text>
<text transform="translate(697.4 1796) scale(0.85 1.0)">в</text>
<text transform="translate(725.0 1796) scale(0.85 1.0)">о</text>
<text transform="translate(752.5 1796) scale(0.85 1.0)">д</text>
<text transform="translate(779.2 1796) scale(0.85 1.0)">о</text>
<text transform="translate(805.4 1796) scale(0.85 1.0)">г</text>
<text transform="translate(832.8 1796) scale(0.85 1.0)">а</text>
<text transform="translate(861.0 1796) scale(0.85 1.0)">з</text>
<text transform="translate(887.6 1796) scale(0.85 1.0)">о</text>
<text transform="translate(914.7 1796) scale(0.85 1.0)">п</text>
<text transform="translate(941.3 1796) scale(0.85 1.0)">р</text>
<text transform="translate(968.9 1796) scale(0.85 1.0)">о</text>
<text transform="translate(995.5 1796) scale(0.85 1.0)">в</text>
<text transform="translate(1023.1 1796) scale(0.85 1.0)">о</text>
<text transform="translate(1050.6 1796) scale(0.85 1.0)">д</text>
<rect x="1079.1" y="1778.5" width="25" height="9" rx="4.5"/>
<text transform="translate(532.8 1841) scale(0.85 1.0)">н</text>
<text transform="translate(559.9 1841) scale(0.85 1.0)">ы</text>
<text transform="translate(587.0 1841) scale(0.85 1.0)">е</text>
<text transform="translate(641.6 1841) scale(0.85 1.0)">д</text>
<text transform="translate(668.3 1841) scale(0.85 1.0)">и</text>
<text transform="translate(694.8 1841) scale(0.85 1.0)">а</text>
<text transform="translate(719.1 1841) scale(1.05 1.0)">м</text>
<circle cx="763.9" cy="1836" r="5.5"/>
<text transform="translate(774.8 1841) scale(0.96 1.084)">I</text>
<text transform="translate(802.5 1841) scale(0.93 1.068)">5</text>
<text transform="translate(854.6 1841) scale(1.05 1.0)">м</text>
<text transform="translate(881.7 1841) scale(1.05 1.0)">м</text>
<text transform="translate(1182.2 1843) scale(1.05 1.0)">м</text>
<text transform="translate(1293.9 1843) scale(0.96 1.084)">I</text>
<text transform="translate(1320.8 1843) scale(0.96 1.068)">6</text>
<path d="M1358.2 1838 a6 6 0 1 1 12 0 c0 5 -3 10 -7 14 l-3 -1 c1 -3 2 -6 2 -8 c-3 -1 -4 -3 -4 -5 Z"/>
<text transform="translate(1376.9 1843) scale(0.85 1.068)">4</text>
<text transform="translate(1402.6 1843) scale(0.94 1.068)">8</text>
<rect x="1433.0" y="1825.5" width="25" height="9" rx="4.5"/>
<text transform="translate(1805.3 1843) scale(0.91 1.068)">O</text>
<path d="M1841.7 1838 a6 6 0 1 1 12 0 c0 5 -3 10 -7 14 l-3 -1 c1 -3 2 -6 2 -8 c-3 -1 -4 -3 -4 -5 Z"/>
<text transform="translate(1858.6 1843) scale(0.96 1.068)">2</text>
<text transform="translate(1885.6 1843) scale(0.96 1.068)">6</text>
<text transform="translate(2434.3 1844) scale(0.85 1.068)">4</text>
</g>
<g fill="#000"><rect x="1417" y="80" width="22" height="10" rx="5"/><rect x="1500" y="78" width="23" height="10" rx="5"/></g>
<g fill="none" stroke="#000" stroke-linecap="round" stroke-linejoin="round">
<path stroke-width="8" d="M1447 77 C1450 70 1464 68 1465 77 C1465 85 1450 90 1446 99 C1452 97 1455 96 1459 99 L1464 96"/>
<ellipse stroke-width="7.5" cx="1483" cy="85" rx="8.5" ry="13.5" transform="rotate(15 1483 85)"/>
<path stroke-width="7.5" d="M92 139 L114 139.5 M102 141 L83 169"/>
<path stroke-width="7.5" d="M97 169 L111 163 L125 143 L134 143 M129 147 L116 170"/>
<path stroke-width="9" d="M125 173 L121 179"/>
<path stroke-width="7.5" d="M155 150 C156 140 143 139 142 147 C141 155 153 157 155 150 L152 166 C150 174 142 174 140 167"/>
<ellipse stroke-width="7.5" cx="174" cy="156.5" rx="9" ry="16.5"/>
<path stroke-width="8" d="M190 146 C192 138 208 137 208 147 C208 156 191 162 190 172 C196 176 204 175 210 167"/>
<path stroke-width="8.5" d="M214 164 L234 163"/>
<path stroke-width="8.5" d="M238 146 C242 137 261 135 261 148 C260 157 245 161 243 170 C248 176 256 176 262 168"/>
<path stroke-width="10" d="M271 163 L290 162"/>
<path stroke-width="8" d="M321 139 L295 173 L319 166 M318 157 L307 177"/>
<path stroke-width="8" d="M344 147 L312 163 L333 167 M324 157 L322 177"/>
<path stroke-width="8.5" d="M372 147 L357 146 L350 160 C360 162 360 172 353 174 L341 172"/>
<path stroke-width="7.5" d="M368 172 L364 177"/>
<path stroke-width="8.5" d="M397 146 C388 146 385 152 390 160 C394 167 387 174 378 173"/>
<path stroke-width="8" d="M419 150 C419 142 408 142 406 148 C405 154 413 156 416 152 M411 157 L398 177"/>
</g>
</svg></body></html>
